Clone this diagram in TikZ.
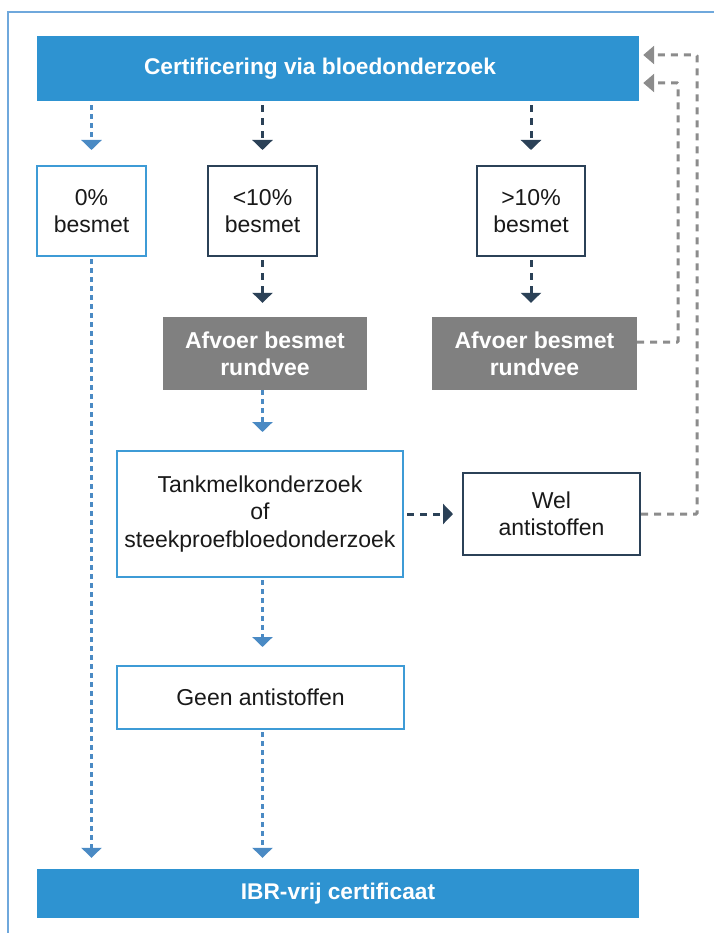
\documentclass[tikz,border=0pt]{standalone}
\usepackage{fontspec}
\setmainfont{Liberation Sans}
\usetikzlibrary{arrows.meta,calc}
\definecolor{barblue}{HTML}{2E93D1}
\definecolor{lblue}{HTML}{4A8AC4}
\definecolor{boxblue}{HTML}{3E9BD6}
\definecolor{navy}{HTML}{2B4157}
\definecolor{grayfill}{HTML}{808080}
\definecolor{grayline}{HTML}{8C8C8C}
\definecolor{framecol}{HTML}{6FA8DC}
\tikzset{
  bar/.style={fill=barblue, draw=none, inner sep=0pt, minimum width=602pt, text=white,
    font=\fontsize{22.7}{27}\selectfont\bfseries},
  lbox/.style={draw=boxblue, line width=2pt, fill=white, inner sep=0pt, align=center,
    text=black!90, font=\fontsize{23}{27.5}\selectfont},
  dbox/.style={draw=navy, line width=2pt, fill=white, inner sep=0pt, align=center,
    text=black!90, font=\fontsize{23}{27.5}\selectfont},
  gbox/.style={fill=grayfill, draw=none, inner sep=0pt, align=center, text=white,
    minimum width=204pt, minimum height=73pt, font=\fontsize{23}{27}\selectfont\bfseries},
  larrow/.style={draw=lblue, line width=3pt, dash pattern=on 5pt off 4pt,
    -{Triangle[width=20pt,length=10pt]}, color=lblue},
  darrow/.style={draw=navy, line width=3pt, dash pattern=on 7pt off 6pt,
    -{Triangle[width=20pt,length=10pt]}, color=navy},
  garrow/.style={draw=grayline, line width=3pt, dash pattern=on 7pt off 6pt,
    -{Triangle[width=18pt,length=11pt]}, color=grayline, rounded corners=1pt},
}
\begin{document}
\begin{tikzpicture}[x=1pt,y=-1pt]
\useasboundingbox (0,0) rectangle (713,933);
\draw[framecol, line width=1.5pt] (8,935) -- (8,12) -- (715,12);

\node[bar, minimum height=65pt] (top) at (338,68.5) {Certificering via bloedonderzoek\hspace*{36pt}};
\node[bar, minimum height=49pt] (ibr) at (338,893.5) {IBR-vrij certificaat};

\node[lbox, minimum width=109pt, minimum height=90pt] (b0) at (91.5,211) {0\%\\besmet};
\node[dbox, minimum width=109pt, minimum height=90pt] (b10) at (262.5,211) {<10\%\\besmet};
\node[dbox, minimum width=108pt, minimum height=90pt] (b10p) at (531,211) {>10\%\\besmet};

\node[gbox] (g1) at (265,353.5) {Afvoer besmet\\rundvee};
\node[gbox, minimum width=205pt] (g2) at (534.5,353.5) {Afvoer besmet\\rundvee};

\node[lbox, minimum width=286pt, minimum height=126pt] (tank) at (260,514) {Tankmelkonderzoek\\of\\steekproefbloedonderzoek};
\node[dbox, minimum width=177pt, minimum height=82pt] (wel) at (551.5,514) {Wel\\antistoffen};
\node[lbox, minimum width=287pt, minimum height=63pt] (geen) at (260.5,697.5) {Geen antistoffen};

% arrows from top bar
\draw[larrow, shorten <=4pt, shorten >=15pt] (b0.north |- top.south) -- (b0.north);
\draw[darrow, shorten <=4pt, shorten >=15pt] (b10.north |- top.south) -- (b10.north);
\draw[darrow, shorten <=4pt, shorten >=15pt] (b10p.north |- top.south) -- (b10p.north);

% to gray boxes
\draw[darrow, shorten <=3pt, shorten >=14pt] (b10.south) -- (b10.south |- g1.north);
\draw[darrow, shorten <=3pt, shorten >=14pt] (b10p.south) -- (b10p.south |- g2.north);

% gray1 to tank
\draw[larrow, shorten >=18pt] (b10.south |- g1.south) -- (b10.south |- tank.north);
% tank to wel
\draw[darrow, shorten <=3pt, shorten >=9pt] (tank.east) -- (wel.west);
% tank to geen
\draw[larrow, shorten <=2pt, shorten >=18pt] (b10.south |- tank.south) -- (b10.south |- geen.north);
% geen to ibr
\draw[larrow, shorten <=2pt, shorten >=11pt] (b10.south |- geen.south) -- (b10.south |- ibr.north);
% 0% to ibr
\draw[larrow, shorten <=2pt, shorten >=11pt] (b0.south) -- (b0.south |- ibr.north);

% feedback loops
\draw[garrow, shorten >=4pt] ([yshift=11.5pt]g2.east) -- ++(41,0) |- ([yshift=-14.5pt]top.east);
\draw[garrow, shorten >=4pt] (wel.east) -- ++(56,0) |- ([yshift=13.5pt]top.east);
\end{tikzpicture}
\end{document}
